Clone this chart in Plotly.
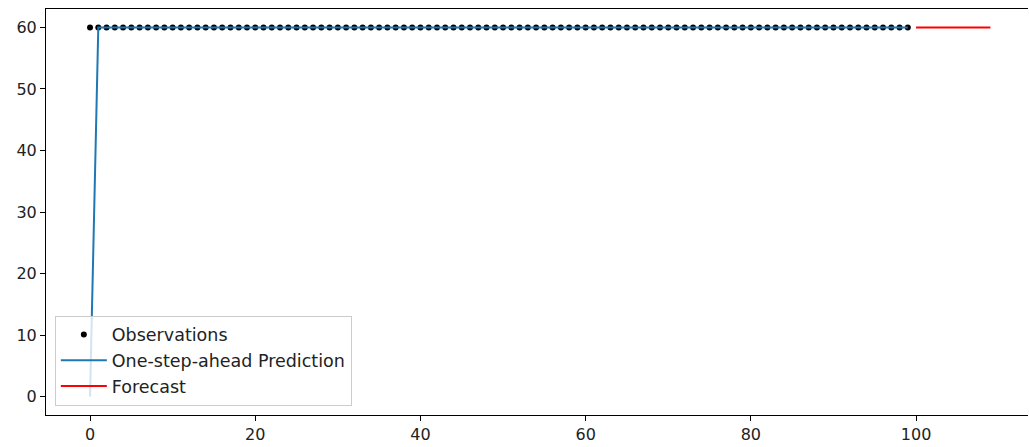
import plotly.graph_objects as go

obs_x = list(range(0, 100))
obs_y = [60] * 100
pred_x = list(range(0, 100))
pred_y = [0] + [60] * 99
fc_x = list(range(100, 110))
fc_y = [60] * 10

fig = go.Figure()
fig.add_trace(go.Scatter(x=obs_x, y=obs_y, mode="markers", name="Observations",
                         marker=dict(color="black", size=6)))
fig.add_trace(go.Scatter(x=pred_x, y=pred_y, mode="lines", name="One-step-ahead Prediction",
                         line=dict(color="#1f77b4", width=2)))
fig.add_trace(go.Scatter(x=fc_x, y=fc_y, mode="lines", name="Forecast",
                         line=dict(color="red", width=2)))

axis_common = dict(showline=True, linecolor="black", linewidth=1,
                   ticks="outside", ticklen=5, tickcolor="black", showgrid=False,
                   zeroline=False, automargin=False,
                   tickfont=dict(family="DejaVu Sans", size=16, color="#222"))
fig.update_xaxes(range=[-5.33, 113.55], tickvals=[0, 20, 40, 60, 80, 100],
                 mirror=True, **axis_common)
fig.update_yaxes(range=[-3, 63], tickvals=[0, 10, 20, 30, 40, 50, 60],
                 mirror=False, **axis_common)

fig.update_layout(
    width=1029, height=447,
    margin=dict(l=46, r=1, t=9, b=31.5),
    plot_bgcolor="white", paper_bgcolor="white",
    font=dict(family="DejaVu Sans", size=16, color="#222"),
    legend=dict(x=0.009, y=0.023, xanchor="left", yanchor="bottom",
                bgcolor="rgba(255,255,255,0.8)", bordercolor="#cccccc", borderwidth=1,
                font=dict(family="DejaVu Sans", size=17.5, color="#222"),
                tracegroupgap=0, itemwidth=46),
    showlegend=True,
)
fig.write_html("out.html", config={"displayModeBar": False},
               post_script="document.body.style.margin='0';document.body.style.overflow='hidden';")
